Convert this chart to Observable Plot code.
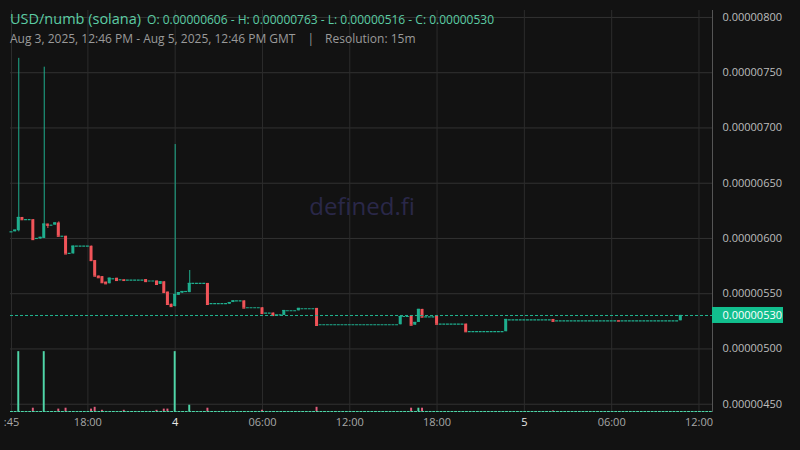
<!DOCTYPE html>
<html>
<head>
<meta charset="utf-8">
<script src="https://cdn.jsdelivr.net/npm/d3@7"></script>
<script src="https://cdn.jsdelivr.net/npm/@observablehq/plot@0.6"></script>
<style>
  html, body { margin: 0; padding: 0; background: #121212; }
  #wrap { position: relative; width: 800px; height: 450px; background: #121212; overflow: hidden; font-family: "Open Sans", sans-serif; }
  #chart, #vol { position: absolute; left: 0; top: 0; }
  #hdr { position: absolute; left: 10px; top: 7px; white-space: nowrap; }
  #l1 { height: 22px; line-height: 22px; color: #5ccca4; }
  #l1 .t { font-size: 14.5px; }
  #l1 .o { font-size: 12px; margin-left: 6px; }
  #l2 { font-size: 12px; line-height: 18px; color: #9a9a9a; margin-top: 1px; }
  #l2 .sep { margin: 0 11px 0 12px; }
</style>
</head>
<body>
<div id="wrap">
  <div id="chart"></div>
  <div id="vol"></div>
  <div id="hdr">
    <div id="l1"><span class="t">USD/numb (solana)</span><span class="o" id="ohlc"></span></div>
    <div id="l2"><span>Aug 3, 2025, 12:46 PM - Aug 5, 2025, 12:46 PM GMT</span><span class="sep">|</span><span>Resolution: 15m</span></div>
  </div>
</div>
<script>
// ---- data (prices in units of 0.00000001) ----
const PRICE_UNIT = 1e-8;
const START = Date.UTC(2025, 7, 3, 12, 45);   // first 15m bucket
const RES_MIN = 15;                            // resolution, minutes

// non-flat candles: bucket index, open, high, low, close
const candleIdx = [0, 1, 2, 3, 6, 8, 9, 10, 12, 13, 15, 17, 22, 23, 24, 25, 26, 27, 29, 31, 37, 40, 41, 42, 43, 44, 45, 46, 47, 49, 54, 60, 61, 64, 69, 72, 75, 79, 84, 107, 110, 111, 112, 113, 117, 125, 136, 149, 167, 184];
const candleOpen  = [606, 606, 607, 619, 617, 599.5, 600, 613, 612, 614, 602, 586, 593, 580, 566, 565.5, 560.5, 559, 564, 562.6, 562.8, 561.5, 558.4, 560.8, 551.5, 540.5, 538.4, 548.5, 550.5, 551, 559.3, 540.5, 542, 543.5, 537.3, 532.5, 530.3, 534.5, 536.7, 521.9, 529.7, 521.5, 524, 535.8, 529.4, 522.5, 515.6, 526.7, 525.7, 525.5];
const candleHigh  = [606, 607.5, 763, 619, 617, 601, 755, 613, 614, 615, 602, 593, 593, 580, 566, 565.5, 560.5, 564, 564, 562.6, 562.8, 561.5, 560.8, 560.8, 551.5, 540.5, 685, 551, 552, 571, 559.3, 542, 543.5, 543.5, 537.3, 532.5, 534.8, 536.7, 536.7, 529.4, 529.7, 524, 535.8, 535.8, 529.4, 522.5, 526.7, 526.7, 525.7, 530.3];
const candleLow   = [606, 606, 606, 617, 599, 599.5, 600, 609, 612, 602, 586, 586, 580, 565, 564.5, 560, 559, 559, 562, 562, 561, 558.4, 558.4, 551.1, 540.3, 538.4, 538, 548.5, 550.5, 551, 540.3, 540.5, 542, 537, 532.1, 530.3, 530.3, 534.5, 521.3, 521.9, 521.5, 521.5, 524, 528.8, 522.4, 515.6, 515.6, 525, 525.2, 525.5];
const candleClose = [606, 607.5, 619, 617, 599, 601, 613, 612, 614, 602, 586, 593, 580, 566, 564.5, 560, 559, 564, 562, 562, 561, 558.4, 560.8, 551.1, 540.3, 538.4, 549.3, 551, 552, 559.3, 540.3, 542, 543.5, 537, 532.1, 530.3, 534.8, 536.7, 521.3, 529.4, 521.5, 524, 535.8, 528.8, 522.4, 515.6, 526.7, 525, 525.2, 530.3];

// runs of unchanged-price buckets (shown as dashes): first index, last index, price
const runStart = [4, 7, 11, 14, 16, 18, 28, 30, 32, 38, 48, 50, 55, 62, 65, 70, 73, 76, 80, 85, 108, 114, 118, 126, 137, 150, 168];
const runEnd   = [5, 7, 11, 14, 16, 21, 28, 30, 36, 39, 48, 53, 59, 63, 68, 71, 74, 78, 83, 106, 109, 116, 124, 135, 148, 166, 183];
const runPrice = [617, 600, 612, 602, 586.5, 593, 563.5, 562.6, 562.3, 561.5, 552, 559.3, 541, 543.5, 537.3, 532.5, 530.8, 534.6, 536.4, 521.9, 529.4, 529, 522.5, 515.6, 526.4, 525.5, 525.5];

// volume (relative units) for buckets with visible bars
const volIdx   = [2, 6, 9, 13, 15, 22, 23, 25, 31, 40, 42, 43, 45, 49, 54, 69, 84, 110, 112, 113, 149];
const volValue = [100, 5.5, 100, 4, 5.5, 4, 7, 2, 2, 2, 4, 4, 100, 10.5, 5.5, 2, 7, 5.5, 5.5, 5.5, 1];

// axis ticks (the first label is clipped to ":45" at the chart's left edge)
const xTickTimes  = ["2025-08-03T12:45Z", "2025-08-03T18:00Z", "2025-08-04T00:00Z", "2025-08-04T06:00Z", "2025-08-04T12:00Z", "2025-08-04T18:00Z", "2025-08-05T00:00Z", "2025-08-05T06:00Z", "2025-08-05T12:00Z"];
const xTickLabels = [":45", "18:00", "4", "06:00", "12:00", "18:00", "5", "06:00", "12:00"];
const xTickBold   = [false, false, true, false, false, false, true, false, false];
const yTicks = [450, 500, 550, 600, 650, 700, 750, 800];

// ---- build ----
const MIN = 60 * 1000;
const tOf = i => new Date(START + i * RES_MIN * MIN);
const HALF = 6.2 * MIN;
const UP = "#1fae8e", DOWN = "#f05459";
const VUP = "#4fd6a8", VDOWN = "#e05d7c";
const fmt = v => (v * PRICE_UNIT).toFixed(8);

const candles = candleIdx.map((i, k) => ({
  t: tOf(i), o: candleOpen[k], h: candleHigh[k], l: candleLow[k], c: candleClose[k],
  up: candleClose[k] >= candleOpen[k]
}));
const runs = runStart.map((s, k) => ({ t1: tOf(s), t2: tOf(runEnd[k]), p: runPrice[k] }));
const upAt = new Map(candles.map((d, k) => [candleIdx[k], d.up]));
const vols = volIdx.map((i, k) => ({ t: tOf(i), v: volValue[k], up: upAt.get(i) !== false }));
const xTicks = xTickTimes.map(s => new Date(s));

const xDomain = [new Date(START), new Date(START + 48.18 * 60 * MIN)];
const W = 800, H = 450, mL = 11, mR = 88, mT = 10, mB = 38;

const last = candles[candles.length - 1].c;
const hi = d3.max(candles, d => d.h), lo = d3.min(candles, d => d.l);
document.getElementById("ohlc").textContent =
  `O: ${fmt(candles[0].o)} - H: ${fmt(hi)} - L: ${fmt(lo)} - C: ${fmt(last)}`;

const style = { background: "transparent", color: "#bdbdbd", fontFamily: "Open Sans, sans-serif", fontSize: "11px", overflow: "visible" };

const main = Plot.plot({
  width: W, height: H, marginLeft: mL, marginRight: mR, marginTop: mT, marginBottom: mB,
  style,
  x: { type: "utc", domain: xDomain, axis: null },
  y: { domain: [442.5, 806.3], axis: null },
  marks: [
    Plot.ruleY(yTicks, { stroke: "#323232", strokeWidth: 1, x1: () => new Date(+xDomain[0] - 4 * MIN), x2: () => xDomain[1] }),
    Plot.ruleX(xTicks, { stroke: "#2c2c2c", strokeWidth: 1 }),
    Plot.text(["defined.fi"], { frameAnchor: "middle", dy: -4, fontSize: 24, fill: "#2a2849", fontFamily: "Open Sans, sans-serif" }),
    // flat runs
    Plot.ruleY(runs, { y: "p", x1: d => new Date(+d.t1 - HALF), x2: d => new Date(+d.t2 + HALF), stroke: UP, strokeWidth: 1.2, strokeDasharray: "2.9,0.74" }),
    // wicks
    Plot.ruleX(candles, { x: "t", y1: "l", y2: "h", stroke: d => d.up ? UP : DOWN, strokeWidth: 1 }),
    // bodies
    Plot.rect(candles, { x1: d => new Date(+d.t - HALF), x2: d => new Date(+d.t + HALF), y1: "o", y2: "c", fill: d => d.up ? UP : DOWN }),
    Plot.ruleY(candles, { y: "c", x1: d => new Date(+d.t - HALF), x2: d => new Date(+d.t + HALF), stroke: d => d.up ? UP : DOWN, strokeWidth: 1.2 }),
    // current price line
    Plot.ruleY([last], { stroke: "#22b893", strokeWidth: 1, strokeDasharray: "3,2", x1: () => new Date(+xDomain[0] - 4 * MIN), x2: () => xDomain[1] }),
    // right axis line
    Plot.ruleX([xDomain[1]], { stroke: "#555", strokeWidth: 1 }),
    // y labels
    Plot.text(yTicks, { y: d => d, frameAnchor: "right", dx: 10, textAnchor: "start", text: d => fmt(d), fill: "#bdbdbd", fontSize: 11 }),
    // x labels
    Plot.text(xTicks, { x: d => d, frameAnchor: "bottom", dy: 13, text: (d, i) => xTickLabels[i],
      textAnchor: (d, i) => i === 0 ? "start" : "middle",
      fill: (d, i) => xTickBold[i] ? "#e8e8e8" : "#a8a8a8", fontWeight: (d, i) => xTickBold[i] ? "bold" : "normal", fontSize: 11 }),
    // current price tag
    Plot.rect([last], { x1: () => xDomain[1], x2: () => xDomain[1], y1: d => d, y2: d => d, insetRight: -71, insetTop: -8, insetBottom: -8, fill: "#12bf8e" }),
    Plot.text([last], { x: () => xDomain[1], y: d => d, dx: 10, textAnchor: "start", text: d => fmt(d), fill: "#ffffff", fontSize: 11 })
  ]
});
document.getElementById("chart").appendChild(main);

const volPlot = Plot.plot({
  width: W, height: H, marginLeft: mL, marginRight: mR, marginTop: mT, marginBottom: mB + 1,
  style,
  x: { type: "utc", domain: xDomain, axis: null },
  y: { domain: [0, 670], axis: null },
  marks: [
    Plot.ruleY([0], { x1: () => new Date(+xDomain[0] - 4 * MIN), x2: () => xDomain[1], stroke: VUP, strokeWidth: 1, strokeDasharray: "2.9,0.74" }),
    Plot.rect(vols, { x1: d => new Date(+d.t - 4 * MIN), x2: d => new Date(+d.t + 4 * MIN), y1: 0, y2: "v", fill: d => d.up ? VUP : VDOWN })
  ]
});
document.getElementById("vol").appendChild(volPlot);
</script>
</body>
</html>
